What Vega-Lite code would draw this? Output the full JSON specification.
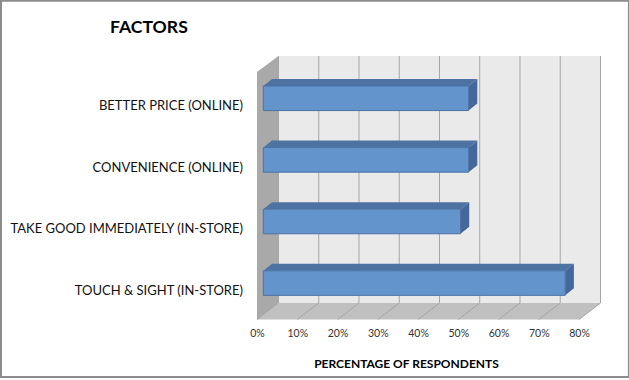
{"$schema":"https://vega.github.io/schema/vega-lite/v6.json","width":343.5,"height":263.5,"autosize":"none","padding":{"left":257,"top":56,"right":28.5,"bottom":60.5},"background":"white","config":{"view":{"stroke":null}},"datasets":{"bars":[{"factor":"BETTER PRICE (ONLINE)","value":51},{"factor":"CONVENIENCE (ONLINE)","value":51},{"factor":"TAKE GOOD IMMEDIATELY (IN-STORE)","value":49},{"factor":"TOUCH & SIGHT (IN-STORE)","value":75}],"ticks":[{"tick":0},{"tick":10},{"tick":20},{"tick":30},{"tick":40},{"tick":50},{"tick":60},{"tick":70},{"tick":80}]},"data":{"name":"bars"},"transform":[{"window":[{"op":"row_number","as":"i"}]},{"calculate":"datum.i-1","as":"r"},{"calculate":"datum.r+0.487","as":"yt"},{"calculate":"datum.r+0.886","as":"yb"},{"calculate":"datum.value+1.57","as":"xr"},{"calculate":"1.57","as":"xl"},{"calculate":"datum.r+0.815","as":"ly"},{"calculate":"0","as":"lx"}],"layer":[{"data":{"values":[{"x":5.34,"x2":85.34,"y":0,"y2":4.01}]},"mark":{"type":"rect","color":"#eaeaea"},"encoding":{"x":{"field":"x","type":"quantitative","scale":{"domain":[0,85.34],"nice":false,"zero":false},"axis":{"values":[0,10,20,30,40,50,60,70,80],"labelExpr":"datum.value+'%'","domain":false,"ticks":false,"grid":false,"labelFlush":false,"labelBound":false,"labelOverlap":false,"labelPadding":9,"labelFont":"Lato","labelFontSize":10.5,"labelColor":"#333","title":"PERCENTAGE OF RESPONDENTS","titleFont":"Lato","titleFontSize":12,"titleFontWeight":"bold","titleColor":"#000","titlePadding":19,"titleX":149,"titleAnchor":"middle"}},"x2":{"field":"x2"},"y":{"field":"y","type":"quantitative","scale":{"domain":[4.278,0],"nice":false,"zero":false},"axis":null},"y2":{"field":"y2"}}},{"data":{"values":[{"x":0,"y":0.26,"y2":4.278},{"x":5.34,"y":0,"y2":4.01}]},"mark":{"type":"area","orient":"vertical","color":"#a9a9a9"},"encoding":{"x":{"field":"x","type":"quantitative"},"y":{"field":"y","type":"quantitative"},"y2":{"field":"y2"}}},{"data":{"values":[{"x":0,"y":4.278,"y2":4.278},{"x":5.34,"y":4.01,"y2":4.278},{"x":80,"y":4.01,"y2":4.278},{"x":85.34,"y":4.01,"y2":4.01}]},"mark":{"type":"area","orient":"vertical","color":"#c0c0c0"},"encoding":{"x":{"field":"x","type":"quantitative"},"y":{"field":"y","type":"quantitative"},"y2":{"field":"y2"}}},{"data":{"name":"ticks"},"transform":[{"calculate":"datum.tick+5.34","as":"bx"},{"calculate":"0","as":"t"},{"calculate":"4.01","as":"b"}],"mark":{"type":"rule","color":"#a6a6a6","strokeWidth":1},"encoding":{"x":{"field":"bx","type":"quantitative"},"y":{"field":"t","type":"quantitative"},"y2":{"field":"b"}}},{"data":{"name":"ticks"},"transform":[{"calculate":"datum.tick+5.34","as":"bx"},{"calculate":"4.278","as":"f"},{"calculate":"4.01","as":"b"}],"mark":{"type":"rule","color":"#a6a6a6","strokeWidth":1},"encoding":{"x":{"field":"tick","type":"quantitative"},"x2":{"field":"bx"},"y":{"field":"f","type":"quantitative"},"y2":{"field":"b"}}},{"transform":[{"calculate":"[0,1,2,3]","as":"k"},{"flatten":["k"]},{"calculate":"[1.57,3.73,datum.xr,datum.xr+2.16][datum.k]","as":"px"},{"calculate":"[datum.yt,datum.yt-0.114,datum.yt-0.114,datum.yt-0.114][datum.k]","as":"py"},{"calculate":"[datum.yt,datum.yt,datum.yt,datum.yt-0.114][datum.k]","as":"py2"}],"mark":{"type":"area","orient":"vertical","color":"#4c73a2"},"encoding":{"x":{"field":"px","type":"quantitative"},"y":{"field":"py","type":"quantitative"},"y2":{"field":"py2"},"detail":{"field":"factor","type":"nominal"}}},{"transform":[{"calculate":"[0,1]","as":"k"},{"flatten":["k"]},{"calculate":"[datum.xr,datum.xr+2.16][datum.k]","as":"px"},{"calculate":"[datum.yt,datum.yt-0.114][datum.k]","as":"py"},{"calculate":"[datum.yb,datum.yb-0.114][datum.k]","as":"py2"}],"mark":{"type":"area","orient":"vertical","color":"#44689a"},"encoding":{"x":{"field":"px","type":"quantitative"},"y":{"field":"py","type":"quantitative"},"y2":{"field":"py2"},"detail":{"field":"factor","type":"nominal"}}},{"mark":{"type":"rect","color":"#6394cc","stroke":"#4a72a5","strokeWidth":1},"encoding":{"x":{"field":"xl","type":"quantitative"},"x2":{"field":"xr"},"y":{"field":"yt","type":"quantitative"},"y2":{"field":"yb"}}},{"mark":{"type":"text","align":"right","baseline":"middle","dx":-14,"font":"Lato","fontSize":13,"color":"#111"},"encoding":{"x":{"field":"lx","type":"quantitative"},"y":{"field":"ly","type":"quantitative"},"text":{"field":"factor","type":"nominal"}}},{"data":{"values":[{"label":"FACTORS","x":-36.5,"y":-0.45}]},"mark":{"type":"text","align":"left","baseline":"middle","font":"Lato","fontSize":17.6,"fontWeight":"bold","color":"#000"},"encoding":{"x":{"field":"x","type":"quantitative"},"y":{"field":"y","type":"quantitative"},"text":{"field":"label","type":"nominal"}}},{"data":{"values":[{"x":-63.6,"x2":92.4,"y":-0.895,"y2":5.21}]},"mark":{"type":"rect","filled":false,"stroke":"#8c8c8c","strokeWidth":2,"clip":false},"encoding":{"x":{"field":"x","type":"quantitative"},"x2":{"field":"x2"},"y":{"field":"y","type":"quantitative"},"y2":{"field":"y2"}}}]}
